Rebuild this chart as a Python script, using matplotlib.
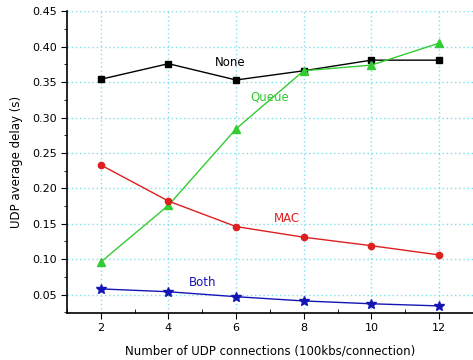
import matplotlib
matplotlib.use("Agg")
import matplotlib.pyplot as plt
from matplotlib.ticker import MultipleLocator

# UDP average delay vs. number of UDP connections
connections = [2, 4, 6, 8, 10, 12]
delay_none = [0.354, 0.376, 0.353, 0.366, 0.381, 0.381]
delay_queue = [0.096, 0.176, 0.284, 0.366, 0.374, 0.405]
delay_mac = [0.233, 0.182, 0.146, 0.131, 0.119, 0.106]
delay_both = [0.058, 0.054, 0.047, 0.041, 0.037, 0.034]

series = [
    ("None", delay_none, "black", "s", 4.5, (5.82, 0.377)),
    ("Queue", delay_queue, "#33cc33", "^", 5.5, (7.0, 0.329)),
    ("MAC", delay_mac, "#dd1f1f", "o", 4.5, (7.5, 0.158)),
    ("Both", delay_both, "#1515b5", "*", 7, (5.02, 0.067)),
]

fig = plt.figure(figsize=(4.73, 3.6), dpi=100)
ax = fig.add_axes([0.1416, 0.1306, 0.858, 0.84])

for name, vals, color, marker, ms, (tx, ty) in series:
    ax.plot(connections, vals, color=color, marker=marker, markersize=ms,
            linewidth=1.0, zorder=3)
    ax.text(tx, ty, name, color=color, fontsize=8.5, ha="center", va="center")

ax.set_xlim(1, 13)
ax.set_ylim(0.024, 0.451)
ax.xaxis.set_major_locator(MultipleLocator(2))
ax.xaxis.set_minor_locator(MultipleLocator(1))
ax.yaxis.set_major_locator(MultipleLocator(0.05))
ax.yaxis.set_minor_locator(MultipleLocator(0.025))
ax.yaxis.set_major_formatter(matplotlib.ticker.FormatStrFormatter("%.2f"))

ax.tick_params(axis="x", which="major", direction="out", length=4, labelsize=8)
ax.tick_params(axis="x", which="minor", direction="in", length=3)
ax.tick_params(axis="y", which="major", direction="out", length=4, labelsize=8)
ax.tick_params(axis="y", which="minor", direction="out", length=2.5)

for side in ("top", "right"):
    ax.spines[side].set_visible(False)
for side in ("left", "bottom"):
    ax.spines[side].set_linewidth(1.2)

ax.grid(True, which="major", color="#7fdfe8", linestyle=(0, (1, 2)),
        linewidth=1.0, zorder=0)

ax.set_xlabel("Number of UDP connections (100kbs/connection)", fontsize=8.5,
              labelpad=8)
ax.set_ylabel("UDP average delay (s)", fontsize=8.5, labelpad=6)

fig.savefig("out.png", dpi=100)
